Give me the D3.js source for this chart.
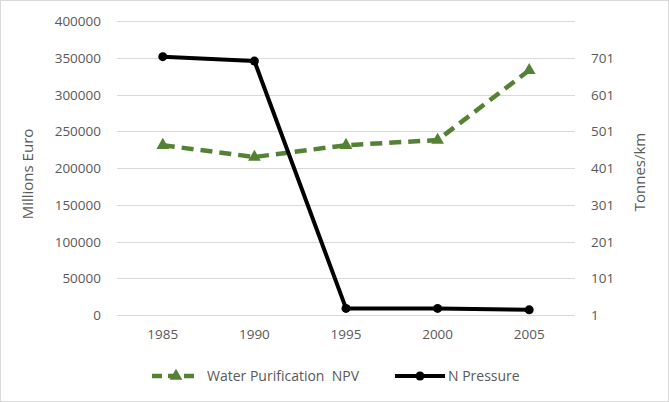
<!DOCTYPE html>
<html>
<head>
<script src="https://cdn.jsdelivr.net/npm/d3@7"></script>
<style>
  body { margin: 0; background: #fff; }
  text { font-family: "Open Sans", "Noto Sans", sans-serif; fill: #595959; }
</style>
</head>
<body>
<div id="chart"></div>
<script>
// data
const years = ["1985", "1990", "1995", "2000", "2005"];
const waterNPV = [231000, 215000, 231000, 238000, 333000];
const nPressure = [704, 692, 19, 19, 15];
const leftTicks = [0, 50000, 100000, 150000, 200000, 250000, 300000, 350000, 400000];
const rightTicks = [1, 101, 201, 301, 401, 501, 601, 701];

const W = 669, H = 402;
const margin = { top: 21, bottom: 87, left: 117, right: 94 };
const green = "#548235";

const svg = d3.select("#chart").append("svg")
  .attr("width", W).attr("height", H);

// chart border
svg.append("rect")
  .attr("x", 0.5).attr("y", 0.5)
  .attr("width", W - 1).attr("height", H - 1)
  .attr("fill", "#fff").attr("stroke", "#d9d9d9");

const x = d3.scaleBand().domain(years).range([margin.left, W - margin.right]);
const yL = d3.scaleLinear().domain([0, 400000]).range([H - margin.bottom, margin.top]);
const yR = d3.scaleLinear().domain([1, 801]).range([H - margin.bottom, margin.top]);
const cx = d => x(d) + x.bandwidth() / 2;

// gridlines
svg.append("g")
  .selectAll("line")
  .data(leftTicks)
  .enter().append("line")
  .attr("x1", margin.left).attr("x2", W - margin.right)
  .attr("y1", d => Math.round(yL(d)) + 0.5).attr("y2", d => Math.round(yL(d)) + 0.5)
  .attr("stroke", "#d9d9d9");

// left axis
const leftAxis = svg.append("g")
  .attr("transform", `translate(${margin.left - 16},0)`)
  .call(d3.axisLeft(yL).tickValues(leftTicks).tickSize(0).tickPadding(0).tickFormat(d3.format("d")));
leftAxis.select(".domain").remove();
leftAxis.selectAll("text").style("font-size", "13.5px").attr("dy", "0.35em").attr("font-family", null);

// right axis
const rightAxis = svg.append("g")
  .attr("transform", `translate(${W - margin.right + 16},0)`)
  .call(d3.axisRight(yR).tickValues(rightTicks).tickSize(0).tickPadding(0));
rightAxis.select(".domain").remove();
rightAxis.selectAll("text").style("font-size", "13.5px").attr("dy", "0.35em").attr("font-family", null);

// x axis
const xAxis = svg.append("g")
  .attr("transform", `translate(0,${H - margin.bottom})`)
  .call(d3.axisBottom(x).tickSize(0).tickPadding(14));
xAxis.select(".domain").remove();
xAxis.selectAll("text").style("font-size", "13.5px").attr("font-family", null);

// axis titles
const midY = (yL(0) + yL(400000)) / 2;
svg.append("text")
  .attr("transform", `translate(33,${midY + 6}) rotate(-90)`)
  .attr("text-anchor", "middle")
  .style("font-size", "15px")
  .text("Millions Euro");

svg.append("text")
  .attr("transform", `translate(645,${midY + 4}) rotate(-90)`)
  .attr("text-anchor", "middle")
  .style("font-size", "15px")
  .text("Tonnes/km");

// water purification NPV (left axis)
const lineL = d3.line().x((d, i) => cx(years[i])).y(d => yL(d));
svg.append("path")
  .datum(waterNPV)
  .attr("fill", "none")
  .attr("stroke", green)
  .attr("stroke-width", 4.5)
  .attr("stroke-dasharray", "12,7")
  .attr("d", lineL);

const tri = d3.symbol().type(d3.symbolTriangle).size(70);
svg.append("g")
  .selectAll("path")
  .data(waterNPV)
  .enter().append("path")
  .attr("transform", (d, i) => `translate(${cx(years[i])},${yL(d)})`)
  .attr("d", tri)
  .attr("fill", green);

// N pressure (right axis)
const lineR = d3.line().x((d, i) => cx(years[i])).y(d => yR(d));
svg.append("path")
  .datum(nPressure)
  .attr("fill", "none")
  .attr("stroke", "#000")
  .attr("stroke-width", 4)
  .attr("stroke-linejoin", "round")
  .attr("d", lineR);

svg.append("g")
  .selectAll("circle")
  .data(nPressure)
  .enter().append("circle")
  .attr("cx", (d, i) => cx(years[i]))
  .attr("cy", d => yR(d))
  .attr("r", 4.5)
  .attr("fill", "#000");

// legend
const ly = 376;
const lg = svg.append("g");
lg.append("line")
  .attr("x1", 152).attr("x2", 200).attr("y1", ly).attr("y2", ly)
  .attr("stroke", green).attr("stroke-width", 4.5).attr("stroke-dasharray", "10,6");
lg.append("path")
  .attr("transform", `translate(176,${ly})`)
  .attr("d", tri).attr("fill", green);
lg.append("text")
  .attr("x", 207).attr("y", ly).attr("dy", "0.35em")
  .style("font-size", "14px")
  .style("white-space", "pre")
  .text("Water Purification  NPV");

lg.append("line")
  .attr("x1", 395).attr("x2", 445).attr("y1", ly).attr("y2", ly)
  .attr("stroke", "#000").attr("stroke-width", 4);
lg.append("circle")
  .attr("cx", 420).attr("cy", ly).attr("r", 4.5).attr("fill", "#000");
lg.append("text")
  .attr("x", 448).attr("y", ly).attr("dy", "0.35em")
  .style("font-size", "14px")
  .text("N Pressure");
</script>
</body>
</html>
